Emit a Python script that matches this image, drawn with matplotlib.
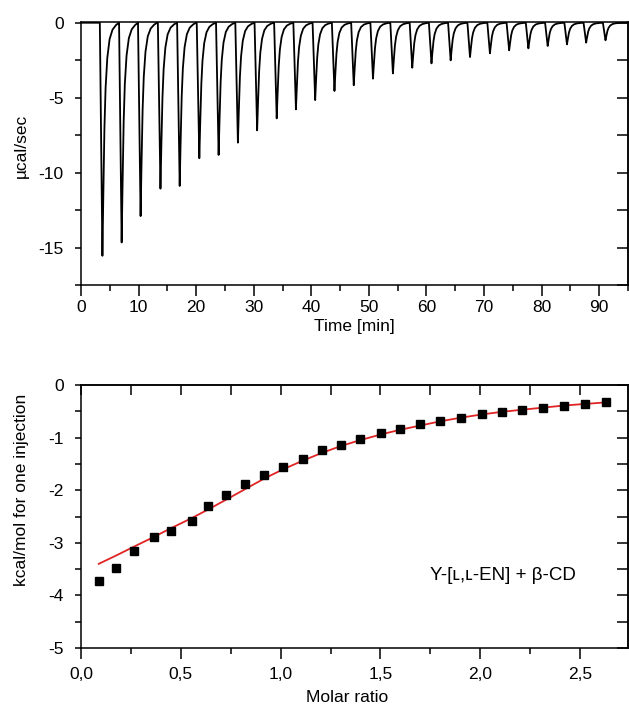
######### ITC titration: raw heat flow and integrated heats #########
import numpy as np
import matplotlib
matplotlib.use("Agg")
import matplotlib.pyplot as plt
from matplotlib.ticker import MultipleLocator, FuncFormatter

plt.rcParams['font.family'] = ['Liberation Sans', 'DejaVu Sans']
plt.rcParams['axes.unicode_minus'] = False

# raw thermogram: time of each peak minimum [min] and its depth [ucal/s]
peak_time = [3.72, 7.06, 10.35, 13.80, 17.14, 20.55, 23.90, 27.25, 30.59,
             33.99, 37.33, 40.67, 44.02, 47.37, 50.71, 54.17, 57.53, 60.87,
             64.20, 67.56, 71.02, 74.36, 77.70, 81.05, 84.40, 87.73, 91.09]
peak_depth = [-15.55, -14.66, -12.90, -11.07, -10.89, -9.04, -8.82, -8.00,
              -7.18, -6.38, -5.78, -5.16, -4.55, -4.17, -3.73, -3.38, -3.00,
              -2.71, -2.51, -2.29, -2.04, -1.84, -1.71, -1.55, -1.44, -1.33,
              -1.17]
# shape of one injection peak (min after onset, fraction of depth)
shape_t = [0.0, 0.25, 0.45, 0.6, 0.8, 1.0, 1.3, 1.7, 2.2, 2.8, 3.3]
shape_f = [0.0, 0.55, 1.0, 0.75, 0.45, 0.28, 0.15, 0.07, 0.03, 0.01, 0.0]

# integrated heats
molar_ratio = [0.089, 0.177, 0.267, 0.364, 0.452, 0.555, 0.635, 0.727, 0.822,
               0.917, 1.014, 1.110, 1.207, 1.302, 1.397, 1.502, 1.600, 1.700,
               1.800, 1.905, 2.007, 2.109, 2.210, 2.315, 2.420, 2.525, 2.630]
heat = [-3.73, -3.48, -3.16, -2.89, -2.78, -2.59, -2.30, -2.10, -1.89, -1.71,
        -1.56, -1.40, -1.24, -1.14, -1.03, -0.92, -0.84, -0.75, -0.68, -0.62,
        -0.56, -0.51, -0.48, -0.43, -0.39, -0.36, -0.33]
heat_fit = [-3.40, -3.24, -3.07, -2.89, -2.72, -2.53, -2.37, -2.18, -1.98,
            -1.78, -1.60, -1.44, -1.29, -1.16, -1.05, -0.94, -0.85, -0.77,
            -0.69, -0.62, -0.56, -0.51, -0.47, -0.43, -0.39, -0.36, -0.33]

FS = 12.5


def style_axis(ax, xmaj, xmin, ymaj, ymin, xtop_step, yright_step, xpad):
    ax.xaxis.set_major_locator(MultipleLocator(xmaj))
    ax.xaxis.set_minor_locator(MultipleLocator(xmin))
    ax.yaxis.set_major_locator(MultipleLocator(ymaj))
    ax.yaxis.set_minor_locator(MultipleLocator(ymin))
    ax.tick_params(axis='x', which='major', direction='out', length=8, width=1.1,
                   labelsize=FS, pad=xpad)
    ax.tick_params(axis='x', which='minor', direction='out', length=4, width=1.1)
    ax.tick_params(axis='y', which='both', direction='out', length=4.5, width=1.1,
                   labelsize=FS, pad=8)
    for s in ax.spines.values():
        s.set_linewidth(1.1)
    if xtop_step:
        top = ax.secondary_xaxis('top')
        top.xaxis.set_major_locator(MultipleLocator(xtop_step))
        top.tick_params(direction='in', length=7, width=1.1, labeltop=False)
        top.spines['top'].set_linewidth(1.1)
    right = ax.secondary_yaxis('right')
    right.yaxis.set_major_locator(MultipleLocator(yright_step))
    right.tick_params(direction='in', length=8, width=1.1, labelright=False)
    right.spines['right'].set_linewidth(1.1)


fig = plt.figure(figsize=(6.29, 7.08), dpi=100)
ax1 = fig.add_axes([81 / 629, 1 - 285 / 708, 547 / 629, 263 / 708])
ax2 = fig.add_axes([81 / 629, 1 - 648 / 708, 547 / 629, 263 / 708])

# ---- top: raw heat flow ----
tt = [0.0]
yy = [0.0]
for tp, d in zip(peak_time, peak_depth):
    t0 = tp - 0.45
    for st, sf in zip(shape_t, shape_f):
        tt.append(t0 + st)
        yy.append(d * sf)
tt.append(95.0)
yy.append(0.0)
ax1.plot(tt, yy, color='black', lw=1.3)
ax1.set_xlim(0, 95)
ax1.set_ylim(-17.5, 0.05)
style_axis(ax1, 10, 5, 5, 2.5, None, 2.5, 3)
ax1.set_xlabel('Time [min]', fontsize=FS)
ax1.set_ylabel('µcal/sec', fontsize=FS)
ax1.xaxis.set_label_coords(0.5, -0.13)
ax1.yaxis.set_label_coords(-0.095, 0.53)

# ---- bottom: integrated heats ----
ax2.plot(molar_ratio, heat, 's', color='black', ms=5.5, zorder=3)
ax2.plot(molar_ratio, heat_fit, '-', color='#e02424', lw=1.3, zorder=2)
ax2.set_xlim(0, 2.74)
ax2.set_ylim(-5, 0)
style_axis(ax2, 0.5, 0.25, 1, 0.5, 0.25, 0.5, 6)
ax2.xaxis.set_major_formatter(FuncFormatter(lambda v, p: f'{v:.1f}'.replace('.', ',')))
ax2.set_xlabel('Molar ratio', fontsize=FS)
ax2.set_ylabel('kcal/mol for one injection', fontsize=FS)
ax2.xaxis.set_label_coords(0.486, -0.158)
ax2.yaxis.set_label_coords(-0.095, 0.60)
ax2.text(1.75, -3.62, 'Y-[ʟ,ʟ-EN] + β-CD', fontsize=13.5, ha='left', va='center')

fig.savefig('out.png', dpi=100)
